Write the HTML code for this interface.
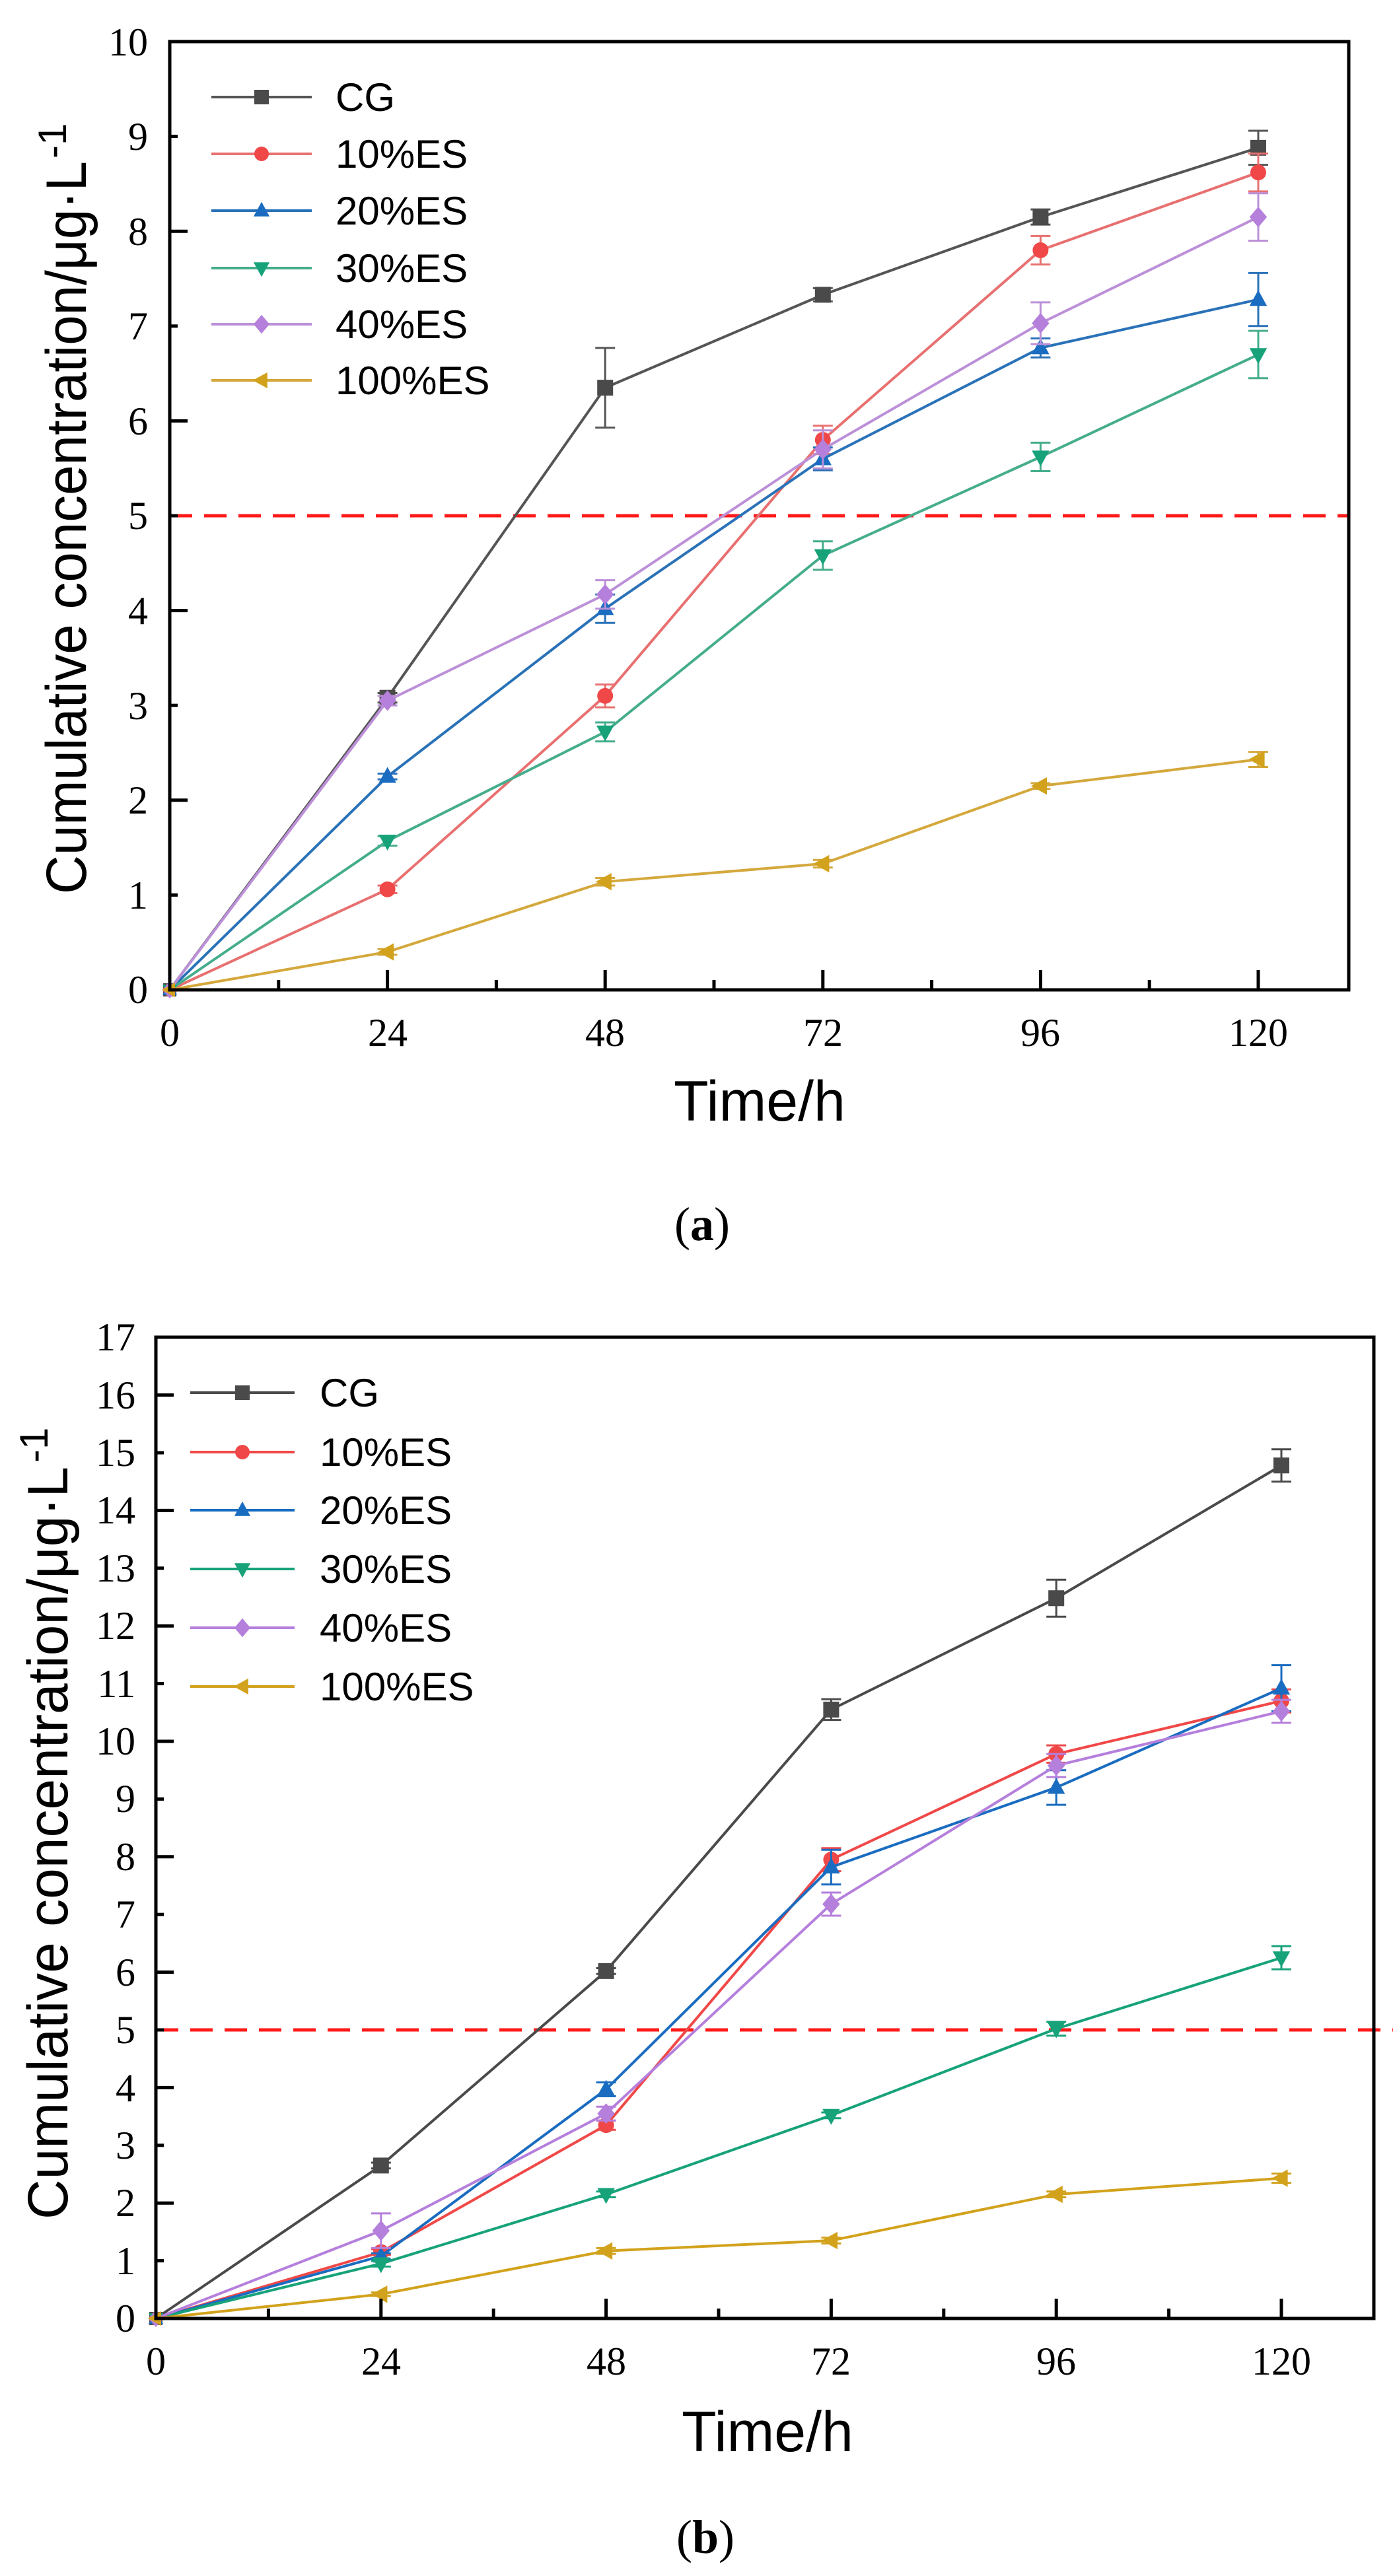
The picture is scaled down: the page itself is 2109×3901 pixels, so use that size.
<!DOCTYPE html>
<html><head><meta charset="utf-8">
<style>
html,body{margin:0;padding:0;background:#fff;}
svg{display:block;}
.tk{font-family:"Liberation Serif",serif;font-size:60px;fill:#000;}
.lg{font-family:"Liberation Sans",sans-serif;font-size:60px;fill:#000;}
.ti{font-family:"Liberation Sans",sans-serif;font-size:86px;fill:#000;}
.cap{font-family:"Liberation Serif",serif;font-size:72px;fill:#000;}
</style></head>
<body>
<svg id="s" width="2109" height="3901" viewBox="0 0 2109 3901" xmlns="http://www.w3.org/2000/svg">
<rect width="2109" height="3901" fill="#fff"/>
<g id="plots"></g>
<g class="tk" text-anchor="end">
<text x="224" y="1519">0</text><text x="224" y="1376">1</text><text x="224" y="1232">2</text>
<text x="224" y="1089">3</text><text x="224" y="945">4</text><text x="224" y="801">5</text>
<text x="224" y="658">6</text><text x="224" y="514">7</text><text x="224" y="371">8</text>
<text x="224" y="227">9</text><text x="224" y="84">10</text>
</g>
<g class="tk" text-anchor="middle">
<text x="257" y="1584">0</text><text x="587" y="1584">24</text><text x="916" y="1584">48</text>
<text x="1246" y="1584">72</text><text x="1575" y="1584">96</text><text x="1905" y="1584">120</text>
</g>
<text class="ti" x="1150" y="1697" text-anchor="middle">Time/h</text>
<text class="ti" transform="translate(130,1354) rotate(-90)" textLength="1110" lengthAdjust="spacingAndGlyphs">Cumulative concentration/μg·L</text>
<text class="lg" transform="translate(100,240) rotate(-90)" font-size="48">-1</text>
<g class="lg">
<text x="508" y="168">CG</text><text x="508" y="254">10%ES</text><text x="508" y="340">20%ES</text>
<text x="508" y="427">30%ES</text><text x="508" y="512">40%ES</text><text x="508" y="597">100%ES</text>
</g>
<text class="cap" x="1063" y="1878" text-anchor="middle">(<tspan font-weight="bold">a</tspan>)</text>

<g class="tk" text-anchor="end">
<text x="205" y="3531">0</text><text x="205" y="3444">1</text><text x="205" y="3356">2</text>
<text x="205" y="3269">3</text><text x="205" y="3182">4</text><text x="205" y="3094">5</text>
<text x="205" y="3007">6</text><text x="205" y="2919">7</text><text x="205" y="2832">8</text>
<text x="205" y="2744">9</text><text x="205" y="2657">10</text><text x="205" y="2570">11</text>
<text x="205" y="2482">12</text><text x="205" y="2395">13</text><text x="205" y="2307">14</text>
<text x="205" y="2220">15</text><text x="205" y="2133">16</text><text x="205" y="2045">17</text>
</g>
<g class="tk" text-anchor="middle">
<text x="236" y="3596">0</text><text x="577" y="3596">24</text><text x="918" y="3596">48</text>
<text x="1258" y="3596">72</text><text x="1599" y="3596">96</text><text x="1940" y="3596">120</text>
</g>
<text class="ti" x="1162" y="3712" text-anchor="middle" font-size="90">Time/h</text>
<text class="ti" transform="translate(102,3361) rotate(-90)" textLength="1140" lengthAdjust="spacingAndGlyphs">Cumulative concentration/μg·L</text>
<text class="lg" transform="translate(72,2215) rotate(-90)" font-size="48">-1</text>
<g class="lg">
<text x="484" y="2130">CG</text><text x="484" y="2220">10%ES</text><text x="484" y="2308">20%ES</text>
<text x="484" y="2397">30%ES</text><text x="484" y="2486">40%ES</text><text x="484" y="2575">100%ES</text>
</g>
<text class="cap" x="1068" y="3866" text-anchor="middle">(<tspan font-weight="bold">b</tspan>)</text>
</svg>
<script>
(function(){
var NS="http://www.w3.org/2000/svg",g=document.getElementById("plots");
function el(t,a){var e=document.createElementNS(NS,t);for(var k in a)e.setAttribute(k,a[k]);g.appendChild(e);return e;}
function marker(type,x,y,c,s){
 s=s||12;
 if(type==0)el("rect",{x:x-s,y:y-s,width:2*s,height:2*s,fill:c});
 else if(type==1)el("circle",{cx:x,cy:y,r:s,fill:c});
 else if(type==2)el("polygon",{points:(x)+","+(y-s*1.2)+" "+(x-s*1.1)+","+(y+s*0.8)+" "+(x+s*1.1)+","+(y+s*0.8),fill:c});
 else if(type==3)el("polygon",{points:(x)+","+(y+s*1.2)+" "+(x-s*1.1)+","+(y-s*0.8)+" "+(x+s*1.1)+","+(y-s*0.8),fill:c});
 else if(type==4)el("polygon",{points:x+","+(y-s*1.3)+" "+(x+s*1.1)+","+y+" "+x+","+(y+s*1.3)+" "+(x-s*1.1)+","+y,fill:c});
 else el("polygon",{points:(x-s*1.2)+","+y+" "+(x+s*0.8)+","+(y-s*1.1)+" "+(x+s*0.8)+","+(y+s*1.1),fill:c});
}
function panel(P){
 var X=function(t){return P.x0+(P.x1-P.x0)*t/120;},Y=function(v){return P.y0-P.py*v;};
 el("line",{x1:P.L,y1:Y(5),x2:P.dashEnd,y2:Y(5),stroke:"#ff1a1a","stroke-width":5,"stroke-dasharray":"34 18"});
 P.series.forEach(function(s,i){
  var pts=s.v.map(function(v,j){return X(j*24)+","+Y(v);}).join(" ");
  el("polyline",{points:pts,fill:"none",stroke:s.lc||s.c,"stroke-width":4});
  s.v.forEach(function(v,j){
   if(j==0){marker(i,X(0),Y(0),s.c,10);return;}
   var e=s.e[j-1],x=X(j*24);
   el("line",{x1:x,y1:Y(v-e),x2:x,y2:Y(v+e),stroke:s.lc||s.c,"stroke-width":3});
   el("line",{x1:x-15,y1:Y(v-e),x2:x+15,y2:Y(v-e),stroke:s.lc||s.c,"stroke-width":3});
   el("line",{x1:x-15,y1:Y(v+e),x2:x+15,y2:Y(v+e),stroke:s.lc||s.c,"stroke-width":3});
   marker(i,x,Y(v),s.c);
  });
  var ly=P.leg[i];
  el("line",{x1:P.lx0,y1:ly,x2:P.lx1,y2:ly,stroke:s.lc||s.c,"stroke-width":4});
  marker(i,(P.lx0+P.lx1)/2,ly,s.c,11);
 });
 el("rect",{x:P.L,y:P.T,width:P.R-P.L,height:P.y0-P.T,fill:"none",stroke:"#000","stroke-width":5});
 for(var t=12;t<=120;t+=12){var x=X(t),len=(t%24==0)?30:15;el("line",{x1:x,y1:P.y0,x2:x,y2:P.y0-len,stroke:"#000","stroke-width":5});}
 for(var v=1;v<P.ymax;v++){var len=(v%2==0)?27:12;el("line",{x1:P.L,y1:Y(v),x2:P.L+len,y2:Y(v),stroke:"#000","stroke-width":5});}
}
panel({x0:257,x1:1905,L:257,R:2042,T:63,y0:1499,py:143.6,ymax:10,dashEnd:2042,
 lx0:320,lx1:472,leg:[147,233,319,406,491,576],
 series:[
 {c:"#4a4a4a",lc:"#555",v:[0,3.08,6.35,7.33,8.15,8.88],e:[.05,.42,.07,.08,.18]},
 {c:"#f04848",lc:"#e87070",v:[0,1.06,3.10,5.80,7.80,8.62],e:[.04,.12,.15,.15,.2]},
 {c:"#1a6cc0",lc:"#2a72b8",v:[0,2.25,4.02,5.60,6.77,7.28],e:[.03,.15,.12,.1,.28]},
 {c:"#17a27a",lc:"#45ad8c",v:[0,1.57,2.72,4.58,5.62,6.70],e:[.05,.1,.15,.15,.25]},
 {c:"#b57fdc",lc:"#bc90d8",v:[0,3.05,4.17,5.70,7.03,8.15],e:[.05,.15,.2,.22,.25]},
 {c:"#d2a21c",lc:"#d4a83c",v:[0,0.40,1.14,1.33,2.15,2.43],e:[.03,.04,.04,.03,.08]}]});
panel({x0:236,x1:1940,L:236,R:2080,T:2025,y0:3511,py:87.4,ymax:17,dashEnd:2109,
 lx0:288,lx1:446,leg:[2109,2199,2287,2376,2465,2554],
 series:[
 {c:"#4a4a4a",v:[0,2.65,6.02,10.55,12.48,14.78],e:[.05,.05,.18,.32,.28]},
 {c:"#f04848",v:[0,1.15,3.35,7.95,9.78,10.7],e:[.05,.08,.2,.15,.2]},
 {c:"#1a6cc0",v:[0,1.08,3.97,7.82,9.2,10.92],e:[.05,.12,.3,.3,.4]},
 {c:"#17a27a",v:[0,0.95,2.15,3.52,5.02,6.25],e:[.05,.05,.05,.12,.2]},
 {c:"#b57fdc",v:[0,1.52,3.55,7.18,9.58,10.52],e:[.3,.12,.2,.2,.2]},
 {c:"#d2a21c",v:[0,0.42,1.17,1.35,2.15,2.43],e:[.03,.05,.05,.05,.08]}]});
})();
</script>
</body></html>
